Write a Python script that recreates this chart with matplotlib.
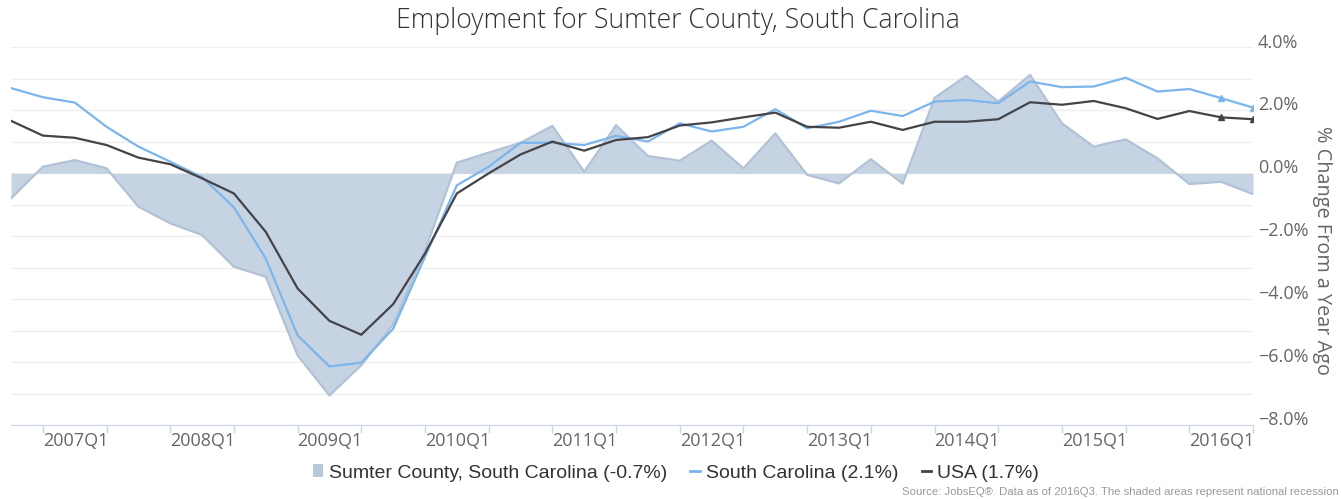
import matplotlib
matplotlib.use("Agg")
import matplotlib.pyplot as plt
import matplotlib.transforms as mtransforms
from matplotlib.patches import Patch
from matplotlib.lines import Line2D

# quarters 2006Q4 .. 2016Q3
quarters = [f"{2006 + (i + 3) // 4}Q{(i + 3) % 4 + 1}" for i in range(40)]

sumter = [-0.80, 0.21, 0.42, 0.16, -1.06, -1.59, -1.96, -2.97, -3.29, -5.79,
          -7.06, -6.10, -4.80, -2.45, 0.34, 0.66, 0.97, 1.51, 0.05, 1.53,
          0.55, 0.40, 1.04, 0.16, 1.27, -0.05, -0.32, 0.45, -0.33, 2.40,
          3.10, 2.28, 3.13, 1.59, 0.85, 1.08, 0.48, -0.34, -0.27, -0.66]
south_carolina = [2.71, 2.42, 2.25, 1.48, 0.85, 0.37, -0.12, -1.08, -2.71, -5.15,
                  -6.14, -6.02, -4.94, -2.65, -0.38, 0.21, 0.97, 0.97, 0.90, 1.19,
                  1.01, 1.59, 1.33, 1.48, 2.04, 1.43, 1.64, 1.99, 1.82, 2.28,
                  2.33, 2.23, 2.92, 2.74, 2.76, 3.04, 2.60, 2.68, 2.39, 2.09]
usa = [1.67, 1.20, 1.13, 0.90, 0.50, 0.29, -0.16, -0.64, -1.86, -3.66,
       -4.69, -5.13, -4.16, -2.55, -0.64, 0.00, 0.60, 1.01, 0.72, 1.06,
       1.15, 1.52, 1.62, 1.78, 1.93, 1.48, 1.45, 1.64, 1.38, 1.64,
       1.64, 1.72, 2.26, 2.18, 2.30, 2.07, 1.73, 1.98, 1.78, 1.72]

legend_labels = ["Sumter County, South Carolina (-0.7%)", "South Carolina (2.1%)", "USA (1.7%)"]
y_ticks = list(range(-8, 5))

fill_c = "#c6d3e3"
edge_c = "#b2c2d6"
blue = "#7cb5ec"
dark = "#434348"
axis_c = "#ccd6eb"

plt.rcParams['font.family'] = ['Open Sans', 'DejaVu Sans']

W, H = 1341, 499
fig = plt.figure(figsize=(W / 100, H / 100), dpi=100)
ax = fig.add_axes([11 / W, (H - 425) / H, (1253 - 11) / W, (425 - 47.5) / H])

x = list(range(len(quarters)))
ax.fill_between(x, sumter, 0, color=fill_c, lw=0, zorder=1)
ax.plot(x, sumter, color=edge_c, lw=1.6, zorder=2)
ax.plot(x, south_carolina, color=blue, lw=1.6, zorder=3)
ax.plot(x, usa, color=dark, lw=1.6, zorder=4)
ax.plot(x[-2:], south_carolina[-2:], ls="none", marker="^", ms=4, color=blue, zorder=3)
ax.plot(x[-2:], usa[-2:], ls="none", marker="^", ms=4, color=dark, zorder=4)

ax.set_xlim(0, len(quarters) - 1)
ax.set_ylim(-8, 4)

# y axis on the right
ax.yaxis.tick_right()
ax.set_yticks(y_ticks)
ax.set_yticklabels([f"{v:.1f}%".replace("-", "\u2212") if v % 2 == 0 else "" for v in y_ticks])
ax.tick_params(axis="y", length=0, pad=3.6, labelsize=13, labelcolor="#666666")
off = mtransforms.ScaledTranslation(0, 0.07, fig.dpi_scale_trans)
for lab in ax.get_yticklabels():
    lab.set_transform(lab.get_transform() + off)
ax.grid(axis="y", color="#efefef", lw=1, zorder=0)

# x axis
xt = [i for i in x if quarters[i].endswith(("Q1", "Q3"))]
ax.set_xticks(xt)
ax.set_xticklabels([quarters[i] if quarters[i].endswith("Q1") else "" for i in xt])
ax.tick_params(axis="x", length=6, width=1, color=axis_c, pad=-1, labelsize=13, labelcolor="#666666")
for lab in ax.get_xticklabels():
    lab.set_horizontalalignment("left")

for s in ["top", "left", "right"]:
    ax.spines[s].set_visible(False)
ax.spines["bottom"].set_color(axis_c)
ax.set_axisbelow(True)

fig.text(1322 / W, 1 - 251 / H, "% Change From a Year Ago", rotation=270,
         ha="center", va="center", fontsize=14.3, color="#666666")
fig.text(678 / W, 1 - 21 / H, "Employment for Sumter County, South Carolina",
         ha="center", va="center", fontsize=19.2, fontweight="light", color="#333333")

handles = [Patch(facecolor="#b9c8db", edgecolor="none"),
           Line2D([], [], color=blue, lw=2),
           Line2D([], [], color=dark, lw=2)]
leg = fig.legend(handles, legend_labels, loc="center", bbox_to_anchor=(676 / W, 1 - 473 / H),
                 ncol=3, frameon=False, handlelength=0.5, handleheight=0.6, handletextpad=0.3,
                 columnspacing=1.2, prop={"family": ["Liberation Sans", "DejaVu Sans"], "size": 14})
for t in leg.get_texts():
    t.set_color("#333333")

fig.text(1339 / W, 1 - 492 / H,
         "Source: JobsEQ\u00ae. Data as of 2016Q3. The shaded areas represent national recession",
         ha="right", va="center", fontsize=8.2, color="#999999",
         family=["Liberation Sans", "DejaVu Sans"])

fig.savefig("out.png", dpi=100)
